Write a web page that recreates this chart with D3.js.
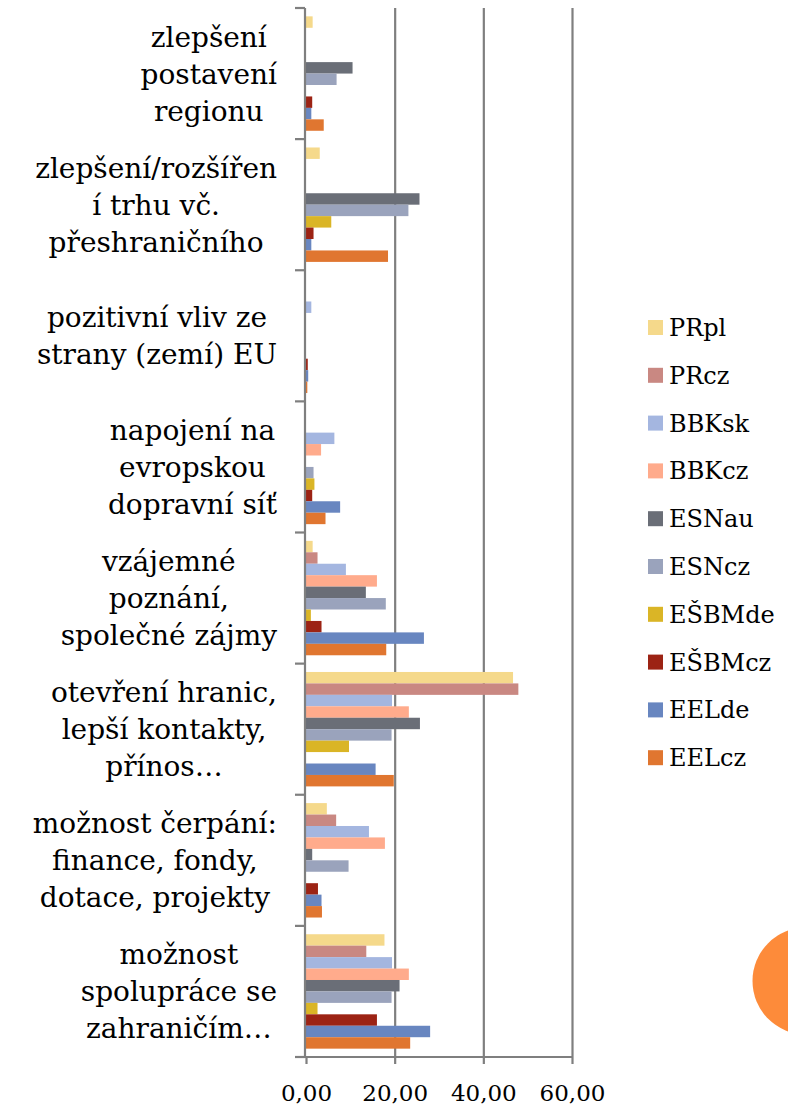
<!DOCTYPE html>
<html>
<head>
<meta charset="utf-8">
<script src="https://cdn.jsdelivr.net/npm/d3@7"></script>
<style>
  body { margin: 0; background: #fff; }
  svg { display: block; font-family: "DejaVu Serif", serif; }
</style>
</head>
<body>
<div id="chart"></div>
<script>
// ---------- DATA ----------
const categories = [
  "zlepšení postavení regionu",
  "zlepšení/rozšíření trhu vč. přeshraničního",
  "pozitivní vliv ze strany (zemí) EU",
  "napojení na evropskou dopravní síť",
  "vzájemné poznání, společné zájmy",
  "otevření hranic, lepší kontakty, přínos…",
  "možnost čerpání: finance, fondy, dotace, projekty",
  "možnost spolupráce se zahraničím…",
];
// wrapped lines of each category label, as they show in the picture
const categoryLines = [
  ["zlepšení", "postavení", "regionu"],
  ["zlepšení/rozšířen", "í trhu vč.", "přeshraničního"],
  ["pozitivní vliv ze", "strany (zemí) EU"],
  ["napojení na", "evropskou", "dopravní síť"],
  ["vzájemné", "poznání,", "společné zájmy"],
  ["otevření hranic,", "lepší kontakty,", "přínos…"],
  ["možnost čerpání:", "finance, fondy,", "dotace, projekty"],
  ["možnost", "spolupráce se", "zahraničím…"],
];
const series = ["PRpl", "PRcz", "BBKsk", "BBKcz", "ESNau", "ESNcz", "EŠBMde", "EŠBMcz", "EELde", "EELcz"];
const seriesColors = ["#f5d98b", "#c98882", "#a4b6e0", "#ffab8c", "#6a6e77", "#9aa3bc", "#dab526", "#9c2314", "#6886c0", "#e07630"];

// one array per series, in category order
const PRpl   = [1.5, 3.1, 0,   0,   1.5,  46.7, 4.7,  17.7];
const PRcz   = [0,   0,   0,   0,   2.6,  47.9, 6.8,  13.6];
const BBKsk  = [0,   0,   1.2, 6.4, 9.0,  19.4, 14.2, 19.4];
const BBKcz  = [0,   0,   0,   3.4, 16.0, 23.2, 17.8, 23.2];
const ESNau  = [10.5, 25.6, 0, 0,   13.5, 25.7, 1.4,  21.1];
const ESNcz  = [6.9, 23.1, 0,  1.7, 18.0, 19.3, 9.6,  19.3];
const EŠBMde = [0,   5.7, 0,   1.9, 1.1,  9.7,  0,    2.6];
const EŠBMcz = [1.4, 1.7, 0.4, 1.4, 3.5,  0,    2.7,  16.0];
const EELde  = [1.2, 1.2, 0.5, 7.7, 26.6, 15.7, 3.5,  28.0];
const EELcz  = [4.0, 18.5, 0.3, 4.4, 18.1, 19.8, 3.6, 23.5];
const seriesValues = [PRpl, PRcz, BBKsk, BBKcz, ESNau, ESNcz, EŠBMde, EŠBMcz, EELde, EELcz];

const xTicks = [0, 20, 40, 60];

// ---------- CHART ----------
const size = { w: 788, h: 1106 };
const plot = { left: 306, right: 572, top: 8, bottom: 1057 };
const axisColor = "#7f7f7f";
const textColor = "#000";

const svg = d3.select("#chart")
  .append("svg")
  .attr("width", size.w)
  .attr("height", size.h);

const x = d3.scaleLinear().domain([0, 60]).range([plot.left, plot.right]);
const y = d3.scaleBand().domain(categories).range([plot.top, plot.bottom]);
const ySub = d3.scaleBand().domain(series).range([0, y.bandwidth()]).paddingOuter(0.73);
const color = d3.scaleOrdinal().domain(series).range(seriesColors);

// gridlines
svg.append("g")
  .attr("transform", `translate(0, ${plot.bottom})`)
  .call(d3.axisBottom(x).tickValues(xTicks.slice(1)).tickSize(-(plot.bottom - plot.top)).tickFormat(""))
  .call(g => g.select(".domain").remove())
  .call(g => g.selectAll("line").attr("stroke", axisColor).attr("stroke-width", 2.2));

// bars
const table = categories.map((c, i) => ({
  category: c,
  values: series.map((s, j) => ({ series: s, value: seriesValues[j][i] })),
}));

const groups = svg.append("g")
  .selectAll("g")
  .data(table)
  .join("g")
  .attr("transform", d => `translate(0, ${y(d.category)})`);

groups.selectAll("rect")
  .data(d => d.values.filter(v => v.value > 0))
  .join("rect")
  .attr("x", x(0))
  .attr("y", d => ySub(d.series))
  .attr("width", d => x(d.value) - x(0))
  .attr("height", ySub.bandwidth())
  .attr("fill", d => color(d.series));

// y axis line with ticks at category boundaries
const bounds = categories.map(c => y(c)).concat([plot.bottom]);
svg.append("line")
  .attr("x1", plot.left - 1).attr("x2", plot.left - 1)
  .attr("y1", plot.top).attr("y2", plot.bottom)
  .attr("stroke", axisColor).attr("stroke-width", 2.2);
svg.append("g")
  .selectAll("line")
  .data(bounds)
  .join("line")
  .attr("x1", plot.left - 11).attr("x2", plot.left - 1)
  .attr("y1", d => d).attr("y2", d => d)
  .attr("stroke", axisColor).attr("stroke-width", 2.2);

// x axis
const xAxis = svg.append("g")
  .attr("transform", `translate(0, ${plot.bottom})`)
  .call(d3.axisBottom(x).tickValues(xTicks).tickSize(7).tickPadding(21)
    .tickFormat(d => d.toFixed(2).replace(".", ",")));
xAxis.select(".domain")
  .attr("d", `M${plot.left - 11},0H${plot.right}`)
  .attr("stroke", axisColor).attr("stroke-width", 2.2);
xAxis.selectAll(".tick line").attr("stroke", axisColor).attr("stroke-width", 2.2);
xAxis.selectAll(".tick text")
  .attr("fill", textColor)
  .style("font-family", "DejaVu Serif, serif")
  .style("font-size", "23px");

// category labels: lines centred in a block that ends near the axis
const lineH = 37;
const labelRight = 277;
categoryLines.forEach((lines, i) => {
  const g = svg.append("g").style("font-size", "28px").attr("fill", textColor);
  const cy = y(categories[i]) + y.bandwidth() / 2 + 2;
  const texts = g.selectAll("text")
    .data(lines)
    .join("text")
    .attr("text-anchor", "middle")
    .attr("y", (d, k) => cy + (k - (lines.length - 1) / 2) * lineH + 8)
    .text(d => d);
  const maxW = d3.max(texts.nodes(), n => n.getComputedTextLength());
  texts.attr("x", labelRight - maxW / 2);
});

// legend
const legend = svg.append("g")
  .selectAll("g")
  .data(series)
  .join("g")
  .attr("transform", (d, i) => `translate(648, ${320 + i * 47.8})`);
legend.append("rect")
  .attr("width", 15).attr("height", 15)
  .attr("fill", d => color(d));
legend.append("text")
  .attr("x", 21).attr("y", 16)
  .style("font-size", "24px")
  .attr("fill", textColor)
  .text(d => d);

// slide decoration
svg.append("circle")
  .attr("cx", 806).attr("cy", 981)
  .attr("r", 53.5)
  .attr("fill", "#fd8b3a");
</script>
</body>
</html>
